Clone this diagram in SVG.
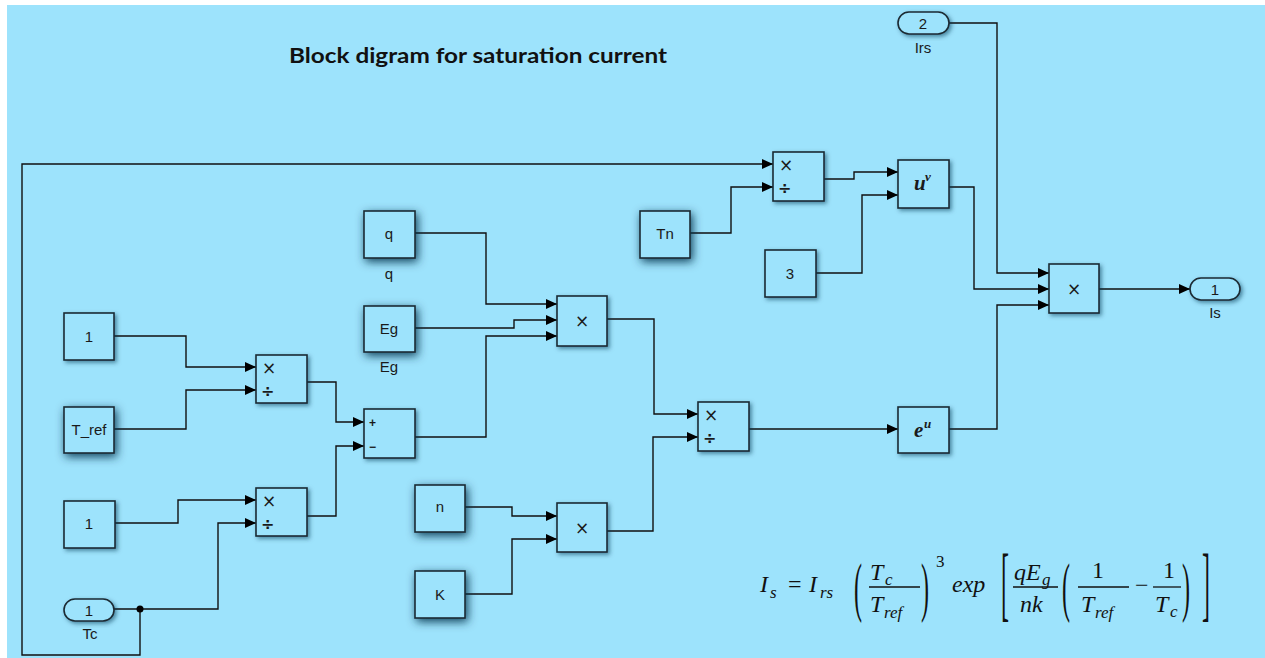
<svg xmlns="http://www.w3.org/2000/svg" width="1265" height="658" viewBox="0 0 1265 658">
<defs>
<style>
.blk{fill:#9de3fc;stroke:#1b2a33;stroke-width:1.6}
.t{font-family:"Liberation Sans",Arial,sans-serif;font-size:15px;fill:#1a1a1a;text-anchor:middle}
.lbl{font-family:"Liberation Sans",Arial,sans-serif;font-size:15px;fill:#1a1a1a;text-anchor:middle}
.op{font-family:"DejaVu Sans",sans-serif;font-size:17px;fill:#1a1a1a}
.dv{font-family:"DejaVu Sans",sans-serif;font-size:16px;font-weight:bold;fill:#1a1a1a}
.sg{font-family:"Liberation Sans",Arial,sans-serif;font-size:12px;font-weight:bold;fill:#1a1a1a}
.fn{font-family:"Liberation Serif",serif;font-style:italic;font-weight:bold;font-size:21px;fill:#1a1a1a}
.fs{font-family:"Liberation Serif",serif;font-style:italic;font-weight:bold;font-size:13px;fill:#1a1a1a}
.w{fill:none;stroke:#111;stroke-width:1.4}
.m{font-family:"Liberation Serif",serif;font-style:italic;font-size:24px;fill:#111}
.ms{font-family:"Liberation Serif",serif;font-style:italic;font-size:17px;fill:#111}
.mu{font-family:"Liberation Serif",serif;font-size:24px;fill:#111}
.mus{font-family:"Liberation Serif",serif;font-size:17px;fill:#111}
.bar{stroke:#111;stroke-width:1.3}
</style>
<marker id="ar" markerUnits="userSpaceOnUse" markerWidth="12" markerHeight="10" refX="11" refY="5" orient="auto">
<path d="M0,0 L11,5 L0,10 z" fill="#000"/>
</marker>
<filter id="glow" x="-50%" y="-50%" width="200%" height="200%">
<feGaussianBlur in="SourceAlpha" stdDeviation="5"/>
<feOffset dx="2" dy="3" result="b"/>
<feFlood flood-color="#06304a" flood-opacity="0.9"/>
<feComposite in2="b" operator="in"/>
<feMerge><feMergeNode/><feMergeNode in="SourceGraphic"/></feMerge>
</filter>
<filter id="sh" x="-30%" y="-30%" width="160%" height="160%">
<feGaussianBlur in="SourceAlpha" stdDeviation="2"/>
<feOffset dx="2" dy="2" result="b"/>
<feFlood flood-color="#0b3550" flood-opacity="0.55"/>
<feComposite in2="b" operator="in"/>
<feMerge><feMergeNode/><feMergeNode in="SourceGraphic"/></feMerge>
</filter>
</defs>
<rect x="0" y="0" width="1265" height="658" fill="#ffffff"/>
<rect x="7" y="5" width="1258" height="653" fill="#9de3fc"/>

<text x="478" y="63" font-family="Lato,'Liberation Sans',sans-serif" font-weight="bold" font-size="20" fill="#111" text-anchor="middle" textLength="378" lengthAdjust="spacingAndGlyphs">Block digram for saturation current</text>

<g id="connectors">
<polyline class="w" points="949,23 997,23 997,273 1049,273" marker-end="url(#ar)"/>
<polyline class="w" points="949,187 974,187 974,289 1049,289" marker-end="url(#ar)"/>
<polyline class="w" points="949,429 997,429 997,305 1049,305" marker-end="url(#ar)"/>
<polyline class="w" points="1099,289 1190,289" marker-end="url(#ar)"/>
<polyline class="w" points="824,179 854,179 854,172 898,172" marker-end="url(#ar)"/>
<polyline class="w" points="816,273 862,273 862,195 898,195" marker-end="url(#ar)"/>
<polyline class="w" points="690,233 731,233 731,187 773,187" marker-end="url(#ar)"/>
<polyline class="w" points="140,609 140,655 22,655 22,164 773,164" marker-end="url(#ar)"/>
<polyline class="w" points="114,609 218,609 218,523 256,523" marker-end="url(#ar)"/>
<polyline class="w" points="115,523 178,523 178,500 256,500" marker-end="url(#ar)"/>
<polyline class="w" points="307,516 336,516 336,446 364,446" marker-end="url(#ar)"/>
<polyline class="w" points="114,336 186,336 186,367 256,367" marker-end="url(#ar)"/>
<polyline class="w" points="114,429 186,429 186,390 256,390" marker-end="url(#ar)"/>
<polyline class="w" points="307,382 336,382 336,422 364,422" marker-end="url(#ar)"/>
<polyline class="w" points="415,437 486,437 486,336 557,336" marker-end="url(#ar)"/>
<polyline class="w" points="415,233 486,233 486,304 557,304" marker-end="url(#ar)"/>
<polyline class="w" points="415,328 514,328 514,320 557,320" marker-end="url(#ar)"/>
<polyline class="w" points="607,319 654,319 654,414 698,414" marker-end="url(#ar)"/>
<polyline class="w" points="465,507 512,507 512,516 557,516" marker-end="url(#ar)"/>
<polyline class="w" points="465,594 512,594 512,539 557,539" marker-end="url(#ar)"/>
<polyline class="w" points="607,531 653,531 653,437 698,437" marker-end="url(#ar)"/>
<polyline class="w" points="749,429 898,429" marker-end="url(#ar)"/>
<circle cx="140" cy="609" r="3.5" fill="#000"/>
</g>

<g id="in_irs"><rect class="blk" filter="url(#sh)" x="898" y="12" width="51" height="22" rx="11"/><text class="t" x="923" y="29">2</text><text class="lbl" x="923" y="53">Irs</text></g>
<g id="in_tc"><rect class="blk" filter="url(#sh)" x="64" y="599" width="50" height="22" rx="11"/><text class="t" x="89" y="616">1</text><text class="lbl" x="90" y="639">Tc</text></g>
<g id="out_is"><rect class="blk" filter="url(#sh)" x="1190" y="278" width="50" height="22" rx="11"/><text class="t" x="1215" y="295">1</text><text class="lbl" x="1215" y="318">Is</text></g>

<g id="const_1a"><rect class="blk" filter="url(#sh)" x="64" y="313" width="50" height="47"/><text class="t" x="89" y="342">1</text></g>
<g id="const_tref"><rect class="blk" filter="url(#glow)" x="64" y="407" width="50" height="46"/><text class="t" x="89" y="435">T_ref</text></g>
<g id="const_1b"><rect class="blk" filter="url(#sh)" x="64" y="501" width="51" height="47"/><text class="t" x="89" y="529">1</text></g>
<g id="const_q"><rect class="blk" filter="url(#glow)" x="364" y="211" width="51" height="47"/><text class="t" x="389" y="239">q</text><text class="lbl" x="389" y="279">q</text></g>
<g id="const_eg"><rect class="blk" filter="url(#glow)" x="364" y="306" width="51" height="46"/><text class="t" x="389" y="334">Eg</text><text class="lbl" x="389" y="372">Eg</text></g>
<g id="const_tn"><rect class="blk" filter="url(#glow)" x="640" y="211" width="50" height="47"/><text class="t" x="665" y="239">Tn</text></g>
<g id="const_3"><rect class="blk" filter="url(#sh)" x="765" y="250" width="51" height="47"/><text class="t" x="790" y="279">3</text></g>
<g id="const_n"><rect class="blk" filter="url(#glow)" x="415" y="485" width="50" height="47"/><text class="t" x="440" y="512">n</text></g>
<g id="const_k"><rect class="blk" filter="url(#glow)" x="415" y="571" width="50" height="47"/><text class="t" x="440" y="600">K</text></g>

<g id="div_ref"><rect class="blk" filter="url(#sh)" x="256" y="355" width="51" height="48"/><text class="op" x="262" y="374">×</text><text class="dv" x="261" y="397">÷</text></g>
<g id="div_tc"><rect class="blk" filter="url(#sh)" x="256" y="488" width="51" height="48"/><text class="op" x="262" y="507">×</text><text class="dv" x="261" y="530">÷</text></g>
<g id="sum"><rect class="blk" filter="url(#sh)" x="364" y="409" width="51" height="49"/><text class="sg" x="369" y="427">+</text><text class="sg" x="369" y="451">−</text></g>
<g id="prod_qeg"><rect class="blk" filter="url(#sh)" x="557" y="296" width="50" height="50"/><text class="op" x="582" y="327" text-anchor="middle">×</text></g>
<g id="prod_nk"><rect class="blk" filter="url(#sh)" x="557" y="503" width="50" height="49"/><text class="op" x="582" y="534" text-anchor="middle">×</text></g>
<g id="div_exp"><rect class="blk" filter="url(#sh)" x="698" y="402" width="51" height="49"/><text class="op" x="704" y="421">×</text><text class="dv" x="703" y="444">÷</text></g>
<g id="div_tn"><rect class="blk" filter="url(#sh)" x="773" y="152" width="51" height="49"/><text class="op" x="779" y="171">×</text><text class="dv" x="778" y="194">÷</text></g>
<g id="pow"><rect class="blk" filter="url(#sh)" x="898" y="160" width="51" height="48"/><text class="fn" x="914" y="190">u</text><text class="fs" x="925" y="181">v</text></g>
<g id="exp"><rect class="blk" filter="url(#sh)" x="898" y="407" width="51" height="46"/><text class="fn" x="914" y="437">e</text><text class="fs" x="924" y="428">u</text></g>
<g id="prod_final"><rect class="blk" filter="url(#sh)" x="1049" y="264" width="50" height="49"/><text class="op" x="1074" y="295" text-anchor="middle">×</text></g>

<g id="formula">
<text class="m" x="760" y="592">I</text><text class="ms" x="770" y="598">s</text>
<text class="mu" x="788" y="592">=</text>
<text class="m" x="809" y="592">I</text><text class="ms" x="820" y="598">rs</text>
<text class="mu" transform="translate(854,609) scale(1,2.7)">(</text>
<text class="m" x="870" y="580">T</text><text class="ms" x="885" y="585">c</text>
<line class="bar" x1="869" y1="587" x2="920" y2="587"/>
<text class="m" x="870" y="612">T</text><text class="ms" x="884" y="618">ref</text>
<text class="mu" transform="translate(921,609) scale(1,2.7)">)</text>
<text class="mus" x="936" y="567">3</text>
<text class="m" x="952" y="592">exp</text>
<text class="mu" transform="translate(1001,611) scale(1,3.45)">[</text>
<text class="m" x="1014" y="580">qE</text><text class="ms" x="1042" y="585">g</text>
<line class="bar" x1="1013" y1="587" x2="1058" y2="587"/>
<text class="m" x="1020" y="612">nk</text>
<text class="mu" transform="translate(1062,609) scale(1,2.7)">(</text>
<text class="mu" x="1092" y="578">1</text>
<line class="bar" x1="1078" y1="587" x2="1129" y2="587"/>
<text class="m" x="1081" y="612">T</text><text class="ms" x="1095" y="618">ref</text>
<text class="mu" x="1135" y="593">−</text>
<text class="mu" x="1163" y="578">1</text>
<line class="bar" x1="1153" y1="587" x2="1181" y2="587"/>
<text class="m" x="1155" y="612">T</text><text class="ms" x="1170" y="617">c</text>
<text class="mu" transform="translate(1182,609) scale(1,2.7)">)</text>
<text class="mu" transform="translate(1202,611) scale(1,3.45)">]</text>
</g>
</svg>
